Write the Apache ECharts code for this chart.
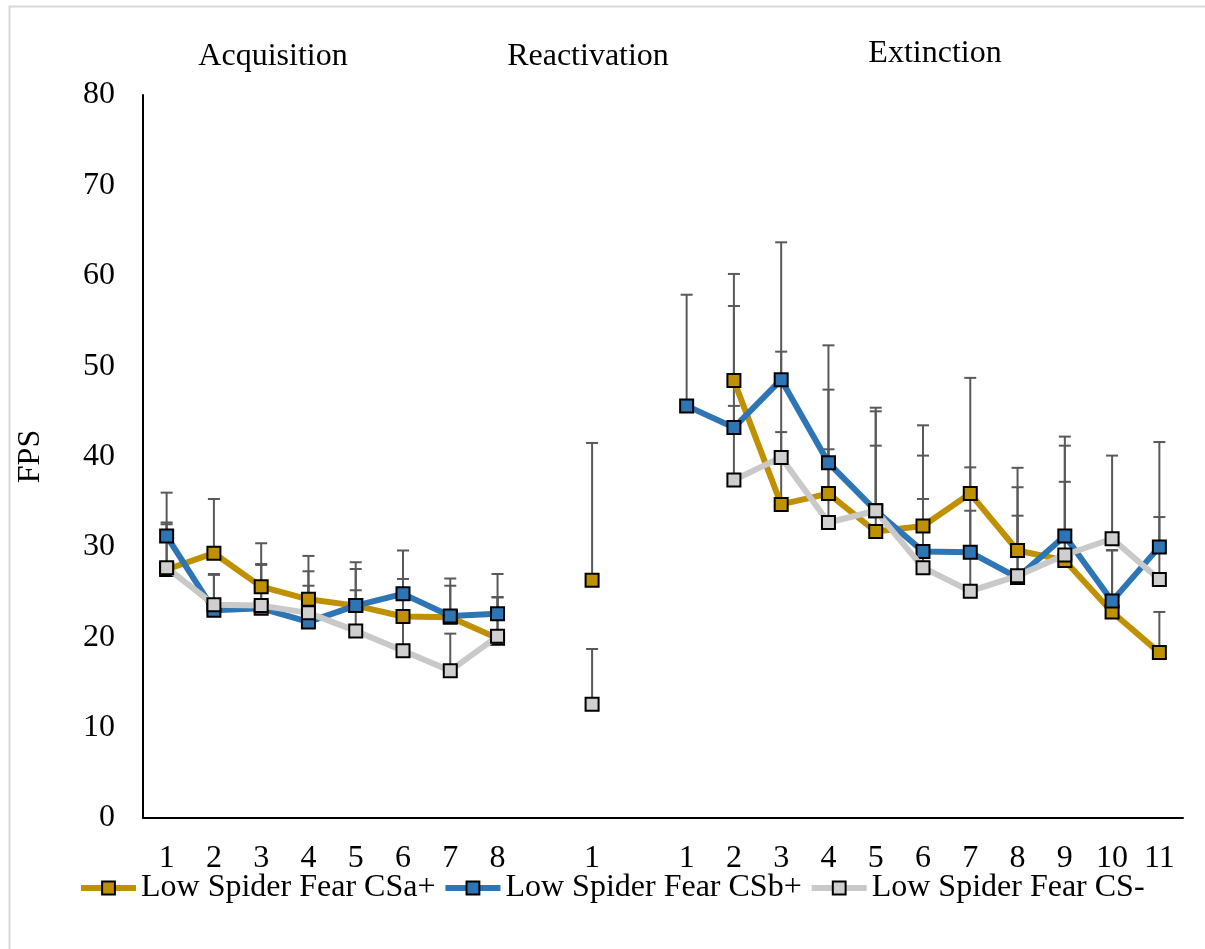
<!DOCTYPE html>
<html><head><meta charset="utf-8">
<script src="https://cdn.jsdelivr.net/npm/echarts@6/dist/echarts.min.js"></script>
<style>html,body{margin:0;padding:0;background:#fff}#c{width:1205px;height:949px}</style>
</head><body><div id="c"></div>
<script>
// Category slots: 8 acquisition trials, gap, 1 reactivation trial, gap, 11 extinction trials
const categories = ['1','2','3','4','5','6','7','8','','1','','1','2','3','4','5','6','7','8','9','10','11'];
const phaseTitles = ['Acquisition', 'Reactivation', 'Extinction'];
const yTicks = [0, 10, 20, 30, 40, 50, 60, 70, 80];
const seriesNames = ['Low Spider Fear CSa+', 'Low Spider Fear CSb+', 'Low Spider Fear CS-'];

// Means
const csaPlus = [27.5, 29.3, 25.6, 24.2, 23.5, 22.3, 22.2, 19.9, null, 26.3, null,
                 null, 48.4, 34.7, 35.9, 31.7, 32.3, 35.9, 29.6, 28.5, 22.8, 18.3];
const csbPlus = [31.2, 23.0, 23.2, 21.7, 23.5, 24.8, 22.35, 22.6, null, null, null,
                 45.6, 43.2, 48.5, 39.3, 34.0, 29.5, 29.4, 26.6, 31.2, 24.0, 30.0];
const csMinus = [27.7, 23.6, 23.5, 22.7, 20.7, 18.5, 16.3, 20.1, null, 12.6, null,
                 null, 37.4, 39.9, 32.7, 34.0, 27.7, 25.1, 26.8, 29.1, 30.9, 26.4];

// Upper error bar sizes
const csaPlusErr = [5.0, 6.0, 4.8, 4.8, 4.8, 4.15, 3.5, 4.5, null, 15.2, null,
                    null, 11.8, 8.0, 11.5, 13.3, 11.15, 12.8, 9.15, 12.7, 6.8, 4.5];
const csbPlusErr = [4.8, 3.9, 4.8, 4.0, 4.05, 4.8, 4.15, 4.4, null, null, null,
                    12.3, 13.45, 15.2, 13.0, 11.4, 10.6, 9.4, 10.0, 11.0, 5.65, 11.6];
const csMinusErr = [5.0, 3.4, 4.6, 4.6, 4.5, 6.1, 4.1, 4.35, null, 6.1, null,
                    null, 8.2, 11.7, 8.1, 7.2, 7.6, 8.9, 6.65, 8.1, 9.2, 6.9];

const FONT = '"Times New Roman", "Liberation Serif", serif';
const FS = 32;
const colors = ['#BF9000', '#2E75B6', '#C9C9C9'];
const markerFill = ['#BF9000', '#2E75B6', '#D0CECE'];

function errData(means, errs) {
  const out = [];
  means.forEach((m, i) => {
    if (m != null && errs[i] != null) out.push([i, m, m + errs[i]]);
  });
  return out;
}
function renderErr(params, api) {
  const x = api.value(0), m = api.value(1), h = api.value(2);
  const p0 = api.coord([x, m]);
  const p1 = api.coord([x, h]);
  const st = { stroke: '#595959', lineWidth: 2 };
  return {
    type: 'group',
    children: [
      { type: 'line', shape: { x1: p0[0], y1: p0[1], x2: p1[0], y2: p1[1] }, style: st },
      { type: 'line', shape: { x1: p1[0] - 6, y1: p1[1], x2: p1[0] + 6, y2: p1[1] }, style: st }
    ]
  };
}

const meansList = [csaPlus, csbPlus, csMinus];
const errList = [csaPlusErr, csbPlusErr, csMinusErr];

const series = [];
meansList.forEach((arr, k) => {
  series.push({
    type: 'custom',
    renderItem: renderErr,
    data: errData(arr, errList[k]),
    encode: { x: 0, y: [1, 2] },
    z: 1,
    silent: true
  });
});
meansList.forEach((arr, k) => {
  series.push({
    name: seriesNames[k],
    type: 'line',
    data: arr,
    connectNulls: false,
    symbol: 'rect',
    symbolSize: 13,
    z: 3 + k,
    lineStyle: { color: colors[k], width: 6 },
    itemStyle: { color: markerFill[k], borderColor: '#000', borderWidth: 2 },
    emphasis: { disabled: true },
    animation: false
  });
});

const chart = echarts.init(document.getElementById('c'), null, { renderer: 'canvas' });
chart.setOption({
  animation: false,
  backgroundColor: '#fff',
  grid: { left: 143, right: 22, top: 95, bottom: 131, containLabel: false },
  xAxis: {
    type: 'category',
    data: categories,
    boundaryGap: true,
    axisLine: { show: true, lineStyle: { color: '#000', width: 2 } },
    axisTick: { show: false },
    axisLabel: { interval: 0, color: '#000', fontFamily: FONT, fontSize: FS, margin: 25 },
    splitLine: { show: false }
  },
  yAxis: {
    type: 'value',
    min: yTicks[0],
    max: yTicks[yTicks.length - 1],
    interval: yTicks[1] - yTicks[0],
    name: 'FPS',
    nameLocation: 'middle',
    nameGap: 96,
    nameRotate: 90,
    nameTextStyle: { color: '#000', fontFamily: FONT, fontSize: FS },
    axisLine: { show: true, lineStyle: { color: '#000', width: 2 } },
    axisTick: { show: false },
    axisLabel: { color: '#000', fontFamily: FONT, fontSize: FS, margin: 28 },
    splitLine: { show: false }
  },
  legend: {
    data: seriesNames,
    left: 73,
    top: 867,
    itemWidth: 55,
    itemHeight: 16,
    itemGap: 7,
    lineStyle: { width: 6 },
    textStyle: { color: '#000', fontFamily: FONT, fontSize: FS },
    selectedMode: false
  },
  graphic: [
    { type: 'rect', left: 7, top: 4, shape: { width: 1205, height: 960 }, style: { fill: 'none', stroke: '#D9D9D9', lineWidth: 2 }, silent: true, z: -10 },
    { type: 'text', x: 273, y: 57, style: { text: phaseTitles[0], font: FS + 'px ' + FONT, fill: '#000', textAlign: 'center', textVerticalAlign: 'middle' } },
    { type: 'text', x: 588, y: 57, style: { text: phaseTitles[1], font: FS + 'px ' + FONT, fill: '#000', textAlign: 'center', textVerticalAlign: 'middle' } },
    { type: 'text', x: 935, y: 54, style: { text: phaseTitles[2], font: FS + 'px ' + FONT, fill: '#000', textAlign: 'center', textVerticalAlign: 'middle' } }
  ],
  series: series
});
</script></body></html>
